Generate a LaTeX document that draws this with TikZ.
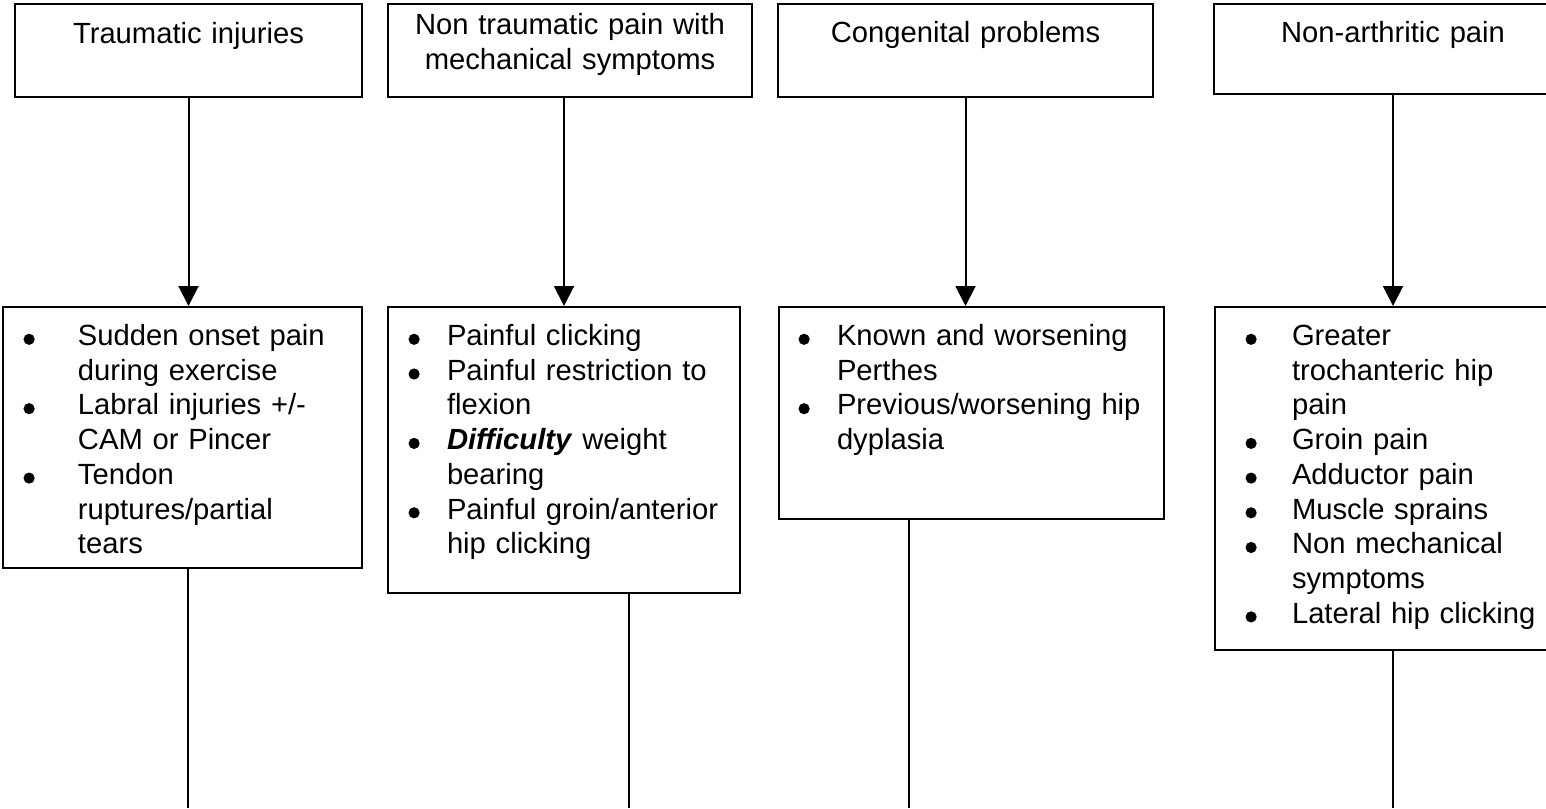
\documentclass[tikz,border=0pt]{standalone}
\usepackage{fontspec}
\setmainfont{Liberation Sans}
\usetikzlibrary{arrows.meta}
\newlength{\bulx}
\newlength{\txtx}
\newcommand{\hipdot}{\tikz[baseline=0pt]\fill (2.8pt,3.1pt) circle[radius=2.8pt];}
\newcommand{\hipitem}[1]{\noindent\hangindent=\txtx\hangafter=1\makebox[\txtx][l]{\hspace*{\bulx}\hipdot}#1\par}

\begin{document}
\begin{tikzpicture}[x=0.5pt, y=-0.5pt,
  every node/.style={font=\fontsize{14.6pt}{17.35pt}\selectfont, line width=1pt, inner sep=0pt},
  topbox/.style={draw, anchor=north west, align=center},
  listbox/.style 2 args={draw, anchor=north west, text height=19.25pt,
    execute at begin node={\raggedright\setlength{\bulx}{#1}\setlength{\txtx}{#2}}},
  arr/.style={line width=1pt, -{Triangle[width=10pt,length=10pt]}},
  link/.style={line width=1pt}]
\path[use as bounding box, clip] (0,0) rectangle (1546,808);

\node[topbox, text width=173.5pt, text height=20pt, text depth=26.5pt] (t1) at (14,3) {Traumatic injuries};
\node[topbox, text width=182pt, text height=15.5pt, text depth=31pt] (t2) at (387,3) {Non traumatic pain with\\mechanical symptoms};
\node[topbox, text width=187.5pt, text height=19.5pt, text depth=27pt] (t3) at (777,3) {Congenital problems};
\node[topbox, text width=179pt, text height=19.5pt, text depth=25.5pt] (t4) at (1213,3) {Non-arthritic pain};

\node[listbox={10.25pt}{37.5pt}, text width=179.5pt, text depth=111.25pt] (b1) at (2,306) {%
  \hipitem{Sudden onset pain\newline during exercise}
  \hipitem{Labral injuries +/-\newline CAM or Pincer}
  \hipitem{Tendon\newline ruptures/partial\newline tears}};
\node[listbox={10.25pt}{29.5pt}, text width=176pt, text depth=123.75pt] (b2) at (387,306) {%
  \hipitem{Painful clicking}
  \hipitem{Painful restriction to\newline flexion}
  \hipitem{\textbf{\textit{Difficulty}} weight\newline bearing}
  \hipitem{Painful groin/anterior\newline hip clicking}};
\node[listbox={9.75pt}{29pt}, text width=192.5pt, text depth=86.75pt] (b3) at (778,306) {%
  \hipitem{Known and worsening\newline Perthes}
  \hipitem{Previous/worsening hip\newline dyplasia}};
\node[listbox={15.25pt}{38.5pt}, text width=178pt, text depth=152.25pt] (b4) at (1214,306) {%
  \hipitem{Greater\newline trochanteric hip\newline pain}
  \hipitem{Groin pain}
  \hipitem{Adductor pain}
  \hipitem{Muscle sprains}
  \hipitem{Non mechanical\newline symptoms}
  \hipitem{Lateral hip clicking}};

\draw[arr] (t1.south) -- (t1.south |- b1.north);
\draw[arr] (t2.south -| b2.north) -- (b2.north);
\draw[arr] (t3.south) -- (t3.south |- b3.north);
\draw[arr] (t4.south) -- (b4.north);

\coordinate (e1) at (188,808);
\coordinate (e2) at (629,808);
\coordinate (e3) at (909,808);
\coordinate (e4) at (1393,808);
\draw[link] (e1 |- b1.south) -- (e1);
\draw[link] (e2 |- b2.south) -- (e2);
\draw[link] (e3 |- b3.south) -- (e3);
\draw[link] (e4 |- b4.south) -- (e4);
\end{tikzpicture}
\end{document}
